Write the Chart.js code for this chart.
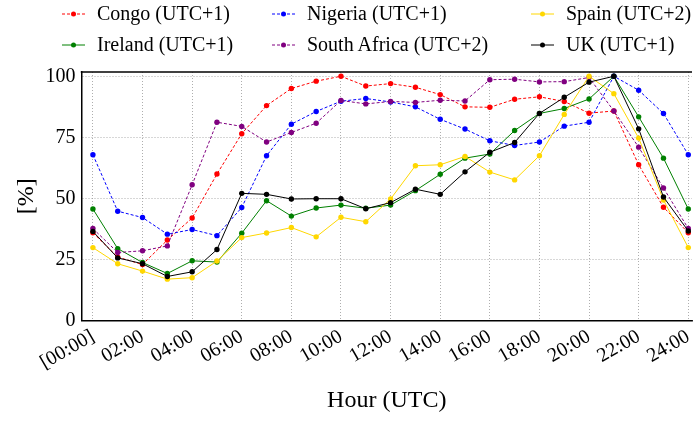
<!DOCTYPE html>
<html>
<head>
<meta charset="utf-8">
<script src="https://cdn.jsdelivr.net/npm/chart.js@4.4.1/dist/chart.umd.min.js"></script>
<style>
  body { margin: 0; background: #fff; }
  #wrap { position: relative; width: 696px; height: 421px; }
  #legend { position: absolute; left: 0; top: 0; width: 696px; height: 60px;
            font-family: "Liberation Serif", serif; font-size: 20px; color: #000; }
  .item { position: absolute; white-space: nowrap; line-height: 20px; }
  .item svg { position: absolute; left: 0; top: 4px; }
  .item span { position: absolute; left: 35px; top: -1px; }
</style>
</head>
<body>
<div id="wrap">
  <canvas id="container" width="696" height="421"></canvas>
  <div id="legend"></div>
</div>
<script>
var hours = [0,1,2,3,4,5,6,7,8,9,10,11,12,13,14,15,16,17,18,19,20,21,22,23,24]
var tickHours = [0,2,4,6,8,10,12,14,16,18,20,22,24]
var tickLabels = ["[00:00]","02:00","04:00","06:00","08:00","10:00","12:00","14:00","16:00","18:00","20:00","22:00","24:00"]
var yTicks = [0,25,50,75,100]

var countries = ["Congo (UTC+1)", "Ireland (UTC+1)", "Nigeria (UTC+1)", "South Africa (UTC+2)", "Spain (UTC+2)", "UK (UTC+1)"]

var congo = [36, 26, 23, 33, 42, 60, 76.5, 88, 95, 98, 100, 96, 97, 95.5, 92.5, 87.5, 87.3, 90.6, 91.6, 89.7, 84.9, 85.8, 63.8, 46.4, 36]
var ireland = [45.7, 29.5, 23.8, 19.3, 24.5, 24, 35.8, 49.1, 42.8, 46.1, 47.3, 46, 47.3, 53.2, 59.9, 66.5, 68.2, 77.8, 84.8, 86.8, 90.7, 100, 83.4, 66.5, 45.7]
var nigeria = [67.9, 44.8, 42.2, 35.4, 37.3, 34.8, 46.3, 67.5, 80.4, 85.6, 89.8, 90.9, 89.5, 87.5, 82.4, 78.4, 73.6, 71.7, 73.1, 79.6, 81.2, 100, 94.3, 84.8, 67.9]
var southAfrica = [37.7, 27.9, 28.6, 30.6, 55.6, 81.2, 79.5, 73.1, 77, 80.8, 90.1, 88.7, 89.7, 89.3, 90.2, 89.9, 98.6, 98.8, 97.7, 97.8, 99.5, 85.8, 71, 54.3, 37.7]
var spain = [29.9, 23.3, 20.3, 17, 17.6, 24.4, 34, 35.9, 38.1, 34.3, 42.3, 40.5, 49.8, 63.4, 63.8, 67.2, 60.8, 57.6, 67.5, 84.4, 100, 92.9, 74.7, 49.4, 29.9]
var uk = [36.5, 25.7, 23.3, 18.1, 20, 29.1, 52.1, 51.7, 49.8, 49.9, 49.9, 45.8, 48.3, 53.8, 51.7, 60.9, 68.9, 72.9, 84.8, 91.4, 97.6, 100, 78.5, 50.6, 36.7]

var series = [congo, ireland, nigeria, southAfrica, spain, uk]
var colors = ["#ff0000", "#008000", "#0000ff", "#800080", "#ffd700", "#000000"]
var dashed = [true, false, true, true, false, false]

// legend columns (matplotlib fills column by column)
var legendCols = [62, 272, 531]
var legendRows = [4, 35]

function buildLegend() {
  var legend = document.getElementById("legend")
  for (var i = 0; i < countries.length; i++) {
    var item = document.createElement("div")
    item.className = "item"
    item.style.left = legendCols[Math.floor(i / 2)] + "px"
    item.style.top = legendRows[i % 2] + "px"
    var dash = dashed[i] ? ' stroke-dasharray="3,2"' : ''
    item.innerHTML = '<svg width="24" height="12"><line x1="0" y1="6" x2="23" y2="6" stroke="' + colors[i] + '" stroke-width="1"' + dash + '/>' +
      '<circle cx="11.5" cy="6" r="2.5" fill="' + colors[i] + '"/></svg><span>' + countries[i] + '</span>'
    legend.appendChild(item)
  }
}

var topSpine = {
  id: "topSpine",
  afterDraw: function(chart) {
    var ctx = chart.ctx
    var a = chart.chartArea
    ctx.save()
    ctx.strokeStyle = "#000"
    ctx.lineWidth = 1.5
    ctx.beginPath()
    ctx.moveTo(a.left - 0.75, a.top)
    ctx.lineTo(a.right, a.top)
    ctx.stroke()
    ctx.restore()
  }
}

function renderChart() {
  var datasets = []
  for (var i = 0; i < series.length; i++) {
    var pts = []
    for (var j = 0; j < hours.length; j++) {
      pts.push({ x: hours[j], y: series[i][j] })
    }
    datasets.push({
      label: countries[i],
      data: pts,
      borderColor: colors[i],
      backgroundColor: colors[i],
      borderWidth: 1,
      borderDash: dashed[i] ? [3, 2] : [],
      pointRadius: 2.7,
      pointBorderWidth: 0,
      pointBackgroundColor: colors[i],
      tension: 0,
      order: series.length - i
    })
  }

  var grid = {
    color: "#999999",
    lineWidth: 0.8,
    drawTicks: false
  }

  new Chart(document.getElementById("container"), {
    type: "line",
    data: { datasets: datasets },
    options: {
      responsive: false,
      animation: false,
      devicePixelRatio: 1,
      layout: { padding: { top: 72, left: 0, right: 0, bottom: 0 } },
      plugins: { legend: { display: false }, tooltip: { enabled: false } },
      scales: {
        x: {
          type: "linear",
          min: -0.46,
          max: 24.15,
          grid: grid,
          // in v4 border.dash is the dash of the grid lines
          border: { display: true, color: "#000", width: 1.5, dash: [1, 2] },
          afterBuildTicks: function(scale) {
            scale.ticks = tickHours.map(function(v) { return { value: v } })
          },
          afterFit: function(scale) {
            scale.height = 100.3
            scale.paddingLeft = 0
            scale.paddingRight = 0
          },
          ticks: {
            autoSkip: false,
            minRotation: 30,
            maxRotation: 30,
            padding: 4,
            color: "#000",
            font: { family: "Liberation Serif", size: 20 },
            callback: function(value) {
              var k = tickHours.indexOf(value)
              return k >= 0 ? tickLabels[k] : ""
            }
          },
          title: {
            display: true,
            text: "Hour (UTC)",
            color: "#000",
            font: { family: "Liberation Serif", size: 24 },
            padding: { top: 0, bottom: 6 }
          }
        },
        y: {
          min: 0,
          max: 101.75,
          grid: grid,
          border: { display: true, color: "#000", width: 1.5, dash: [1, 2] },
          afterBuildTicks: function(scale) {
            scale.ticks = yTicks.map(function(v) { return { value: v } })
          },
          afterFit: function(scale) {
            scale.width = 81.5
          },
          ticks: {
            padding: 6,
            color: "#000",
            font: { family: "Liberation Serif", size: 20 }
          },
          title: {
            display: true,
            text: "[%]",
            color: "#000",
            font: { family: "Liberation Serif", size: 24 },
            padding: { top: 12, bottom: 0 }
          }
        }
      }
    },
    plugins: [topSpine]
  })
}

buildLegend()
renderChart()
</script>
</body>
</html>
